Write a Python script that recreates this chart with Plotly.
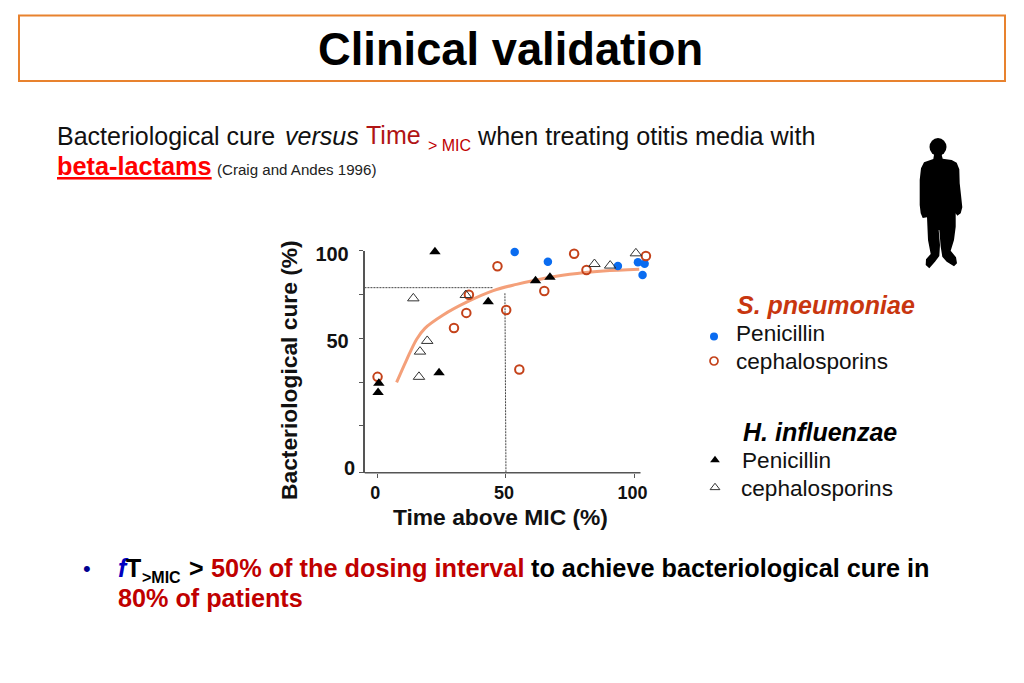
import plotly.graph_objects as go

FONT = "Liberation Sans"
W, H = 1024, 683

# Data
spn_pen_x = [53.4, 66.3, 93.5, 101.3, 103.9, 103.1]
spn_pen_y = [99.2, 93.7, 91.3, 93.4, 92.6, 86.1]
spn_ceph_x = [0.1, 29.8, 34.6, 35.6, 46.7, 50.1, 55.2, 64.9, 76.5, 81.3, 104.4]
spn_ceph_y = [28, 55.9, 64.5, 74.9, 91.1, 66.2, 32.2, 77, 98.3, 89, 97]
hin_pen_x = [0.6, 0.3, 22.4, 24, 43.1, 61.5, 67.1]
hin_pen_y = [24.4, 19, 99.4, 30.3, 70.9, 82.9, 84.8]
hin_ceph_x = [14, 16.2, 16.6, 19.4, 34.4, 84.4, 90.5, 100.5]
hin_ceph_y = [72.8, 28, 42.4, 48.5, 74.7, 92.4, 91.5, 98.5]
curve_x = [7.5, 11.4, 15.3, 18.5, 25.6, 34.7, 45.1, 54.1, 61.9, 74.8, 87.8, 101.8]
curve_y = [24.8, 37.7, 49.5, 55.7, 63.3, 70.6, 77.2, 80.8, 83.3, 86.5, 88.4, 89.4]
guide_h_x = [-5, 44.8]
guide_h_y = [78.9, 78.9]
guide_v_x = [49.6, 50]
guide_v_y = [75.7, -26.6]
x_ticks = [0, 50, 100]
x_labels = ["0", "50", "100"]
y_ticks = [100, 75, 50, 25, 0, -26.6]
y_labels = ["100", "", "50", "", "", ""]

# Plot frame in pixels; the frame runs past the drawn axis so points beyond 100 stay visible
L, R, T, B = 364.5, 652.0, 250.7, 472.7
X0 = 377.3
PX = 2.573
PY = (338.3 - 250.7) / 50
AXIS_END = 102.3

RED = "#C00000"
BRIGHT = "#FF0000"
ORANGE_RED = "#C8360F"
BLUE = "#0A6CF0"
CIRCLE = "#C4421A"
CURVE = "#F4A07A"
AXIS = "#555555"

fig = go.Figure()
fig.add_trace(go.Scatter(x=curve_x, y=curve_y, mode="lines", line=dict(color=CURVE, width=3, shape="spline"), showlegend=False))
fig.add_trace(go.Scatter(x=guide_h_x, y=guide_h_y, mode="lines", line=dict(color="#444", width=1, dash="2px,1px"), showlegend=False))
fig.add_trace(go.Scatter(x=guide_v_x, y=guide_v_y, mode="lines", line=dict(color="#444", width=1, dash="2px,1px"), showlegend=False))
fig.add_trace(go.Scatter(x=spn_pen_x, y=spn_pen_y, mode="markers", marker=dict(symbol="circle", size=8.5, color=BLUE), cliponaxis=False, showlegend=False))
fig.add_trace(go.Scatter(x=spn_ceph_x, y=spn_ceph_y, mode="markers", marker=dict(symbol="circle-open", size=8.5, color=CIRCLE, line=dict(width=2, color=CIRCLE)), cliponaxis=False, showlegend=False))
fig.add_trace(go.Scatter(x=hin_pen_x, y=hin_pen_y, mode="markers", marker=dict(symbol="triangle-up", size=10, color="black"), cliponaxis=False, showlegend=False))
fig.add_trace(go.Scatter(x=hin_ceph_x, y=hin_ceph_y, mode="markers", marker=dict(symbol="triangle-up-open", size=10, color="#333", line=dict(width=1, color="#333")), cliponaxis=False, showlegend=False))

# Legend keys on a full-page axis pair measured in pixels
for px, py, sym, col, size, lw in [
    (714, 336.5, "circle", BLUE, 8, 0),
    (714, 361, "circle-open", CIRCLE, 8, 1.7),
    (715, 460, "triangle-up", "black", 8.5, 0),
    (715, 487.5, "triangle-up-open", "#333", 8.5, 1),
]:
    fig.add_trace(go.Scatter(x=[px], y=[py], xaxis="x2", yaxis="y2", mode="markers", showlegend=False,
                             marker=dict(symbol=sym, size=size, color=col, line=dict(width=lw, color=col))))


def text(x, y, s, size, color="black", bold=False, italic=False, anchor="left"):
    if bold:
        s = f"<b>{s}</b>"
    if italic:
        s = f"<i>{s}</i>"
    fig.add_annotation(x=x, y=y, xref="x2", yref="y2", text=s, showarrow=False, xanchor=anchor, yanchor="middle",
                       font=dict(family=FONT, size=size, color=color), align="left", xshift=-2)


text(512, 49, "Clinical validation", 45.3, bold=True, anchor="center")
text(57, 136, "Bacteriological cure", 25, color="#111")
text(285, 136, "versus", 25, italic=True, color="#111")
text(366, 135, "Time", 25, color="#B01515")
text(428, 145, "&gt; MIC", 16, color=RED)
text(477, 136, "when treating otitis media with", 25.2, color="#111")
text(57, 166, "<u>beta-lactams</u>", 25.3, color=BRIGHT, bold=True)
text(217, 169, "(Craig and Andes 1996)", 15.1, color="#222")
text(737, 305, "S. pneumoniae", 25, color=ORANGE_RED, bold=True, italic=True)
text(736, 333, "Penicillin", 22.6, color="#111")
text(736, 361, "cephalosporins", 22.6, color="#111")
text(743, 432, "H. influenzae", 25, bold=True, italic=True)
text(742, 460, "Penicillin", 22.6, color="#111")
text(741, 488, "cephalosporins", 22.6, color="#111")
text(83, 568, "•", 22, color="#000090")
text(118, 568, "f", 25, color="#0000C0", bold=True, italic=True)
text(126, 568, "T", 25, bold=True)
text(142, 577, "&gt;MIC", 16, bold=True)
text(189, 568, "&gt;", 25, bold=True)
text(211, 568, "50% of the dosing interval", 25.3, color=RED, bold=True)
text(531, 568, "to achieve bacteriological cure in", 25.25, bold=True)
text(118, 598, "80% of patients", 25.2, color=RED, bold=True)
text(359, 468, "0", 20, color="#111", bold=True, anchor="right")
fig.add_annotation(x=500, y=517, xref="x2", yref="y2", text="<b>Time above MIC (%)</b>", showarrow=False,
                   font=dict(family=FONT, size=22.8, color="#111"))
fig.add_annotation(x=289, y=370, xref="x2", yref="y2", text="<b>Bacteriological cure (%)</b>", showarrow=False, textangle=-90,
                   font=dict(family=FONT, size=22.8, color="#111"))

# Silhouette outline, measured on the 3x crop whose origin is (690, 130)
body = [(733, 70), (754, 70), (758, 86), (785, 90), (800, 98), (808, 118), (809, 160), (813, 195), (817, 232), (812, 250), (802, 257),
        (797, 250), (797, 290), (792, 330), (782, 362), (798, 382), (801, 400), (792, 409), (770, 395), (757, 380), (752, 350), (748, 300),
        (746, 300), (750, 345), (748, 378), (735, 395), (718, 415), (707, 405), (708, 388), (722, 372), (714, 330), (711, 262), (698, 264),
        (692, 250), (689, 225), (689, 150), (693, 115), (702, 97), (730, 87)]
path = "M " + " L ".join(f"{690 + a / 3:.1f},{130 + b / 3:.1f}" for a, b in body) + " Z"
shapes = [
    dict(type="path", path=path, xref="x2", yref="y2", fillcolor="black", line=dict(width=0)),
    dict(type="circle", xref="x2", yref="y2", x0=929.5, x1=946.5, y0=138, y1=156, fillcolor="black", line=dict(width=0)),
    dict(type="rect", xref="x2", yref="y2", x0=19, x1=1005, y0=15.5, y1=81, line=dict(color="#E8822E", width=2)),
    dict(type="line", xref="x", yref="y domain", x0=(L - X0) / PX, x1=AXIS_END, y0=0, y1=0, line=dict(color=AXIS, width=1.5)),
]

fig.update_layout(
    width=W, height=H, margin=dict(l=0, r=0, t=0, b=0, autoexpand=False), paper_bgcolor="white", plot_bgcolor="rgba(0,0,0,0)",
    showlegend=False, shapes=shapes,
    xaxis=dict(domain=[L / W, R / W], range=[(L - X0) / PX, (R - X0) / PX], tickmode="array", tickvals=x_ticks, ticktext=x_labels,
               showgrid=False, zeroline=False, showline=False, ticks="outside", ticklen=4, ticklabelshift=-2,
               tickcolor=AXIS, tickfont=dict(family=FONT, size=18, color="#111", weight="bold"), anchor="y", automargin=False),
    yaxis=dict(domain=[1 - B / H, 1 - T / H], range=[100 - (B - T) / PY, 100], tickmode="array", tickvals=y_ticks, ticktext=y_labels,
               showgrid=False, zeroline=False, showline=True, linecolor=AXIS, linewidth=1.5, ticks="outside", ticklen=4, ticklabelstandoff=6,
               ticklabelshift=3, tickcolor=AXIS, tickfont=dict(family=FONT, size=20, color="#111", weight="bold"), anchor="x", automargin=False),
    xaxis2=dict(domain=[0, 1], range=[0, W], visible=False, anchor="y2", fixedrange=True),
    yaxis2=dict(domain=[0, 1], range=[H, 0], visible=False, anchor="x2", fixedrange=True),
)
fig.write_html("out.html", post_script="document.body.style.margin='0';", config={"displayModeBar": False})
